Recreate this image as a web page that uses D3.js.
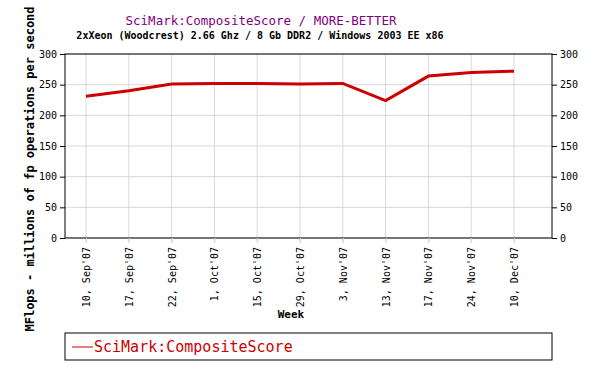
<!DOCTYPE html>
<html>
<head>
<meta charset="utf-8">
<script src="https://cdn.jsdelivr.net/npm/d3@7"></script>
<style>
  body { margin: 0; background: #fff; }
  svg { display: block; font-family: "DejaVu Sans Mono", "Liberation Mono", monospace; }
</style>
</head>
<body>
<svg id="chart" width="600" height="370"></svg>
<script>
// data
const weeks = ["10, Sep'07", "17, Sep'07", "22, Sep'07", "1, Oct'07", "15, Oct'07", "29, Oct'07",
               "3, Nov'07", "13, Nov'07", "17, Nov'07", "24, Nov'07", "10, Dec'07"];
const scores = [231, 240, 251, 252, 252, 251, 252, 224, 264, 270, 272];
const yTicks = [0, 50, 100, 150, 200, 250, 300];
const seriesName = "SciMark:CompositeScore";

const svg = d3.select("#chart");

// plot area
const plotLeft = 65, plotRight = 552, plotTop = 54, plotBottom = 238;

const x = d3.scalePoint()
  .domain(weeks)
  .range([86, 514]);

const y = d3.scaleLinear()
  .domain([0, 300])
  .range([plotBottom, plotTop]);

// grid
svg.append("g")
  .selectAll("line")
  .data(weeks)
  .join("line")
    .attr("x1", d => x(d)).attr("x2", d => x(d))
    .attr("y1", plotTop).attr("y2", plotBottom + 5)
    .attr("stroke", "#d9d9d9");

svg.append("g")
  .selectAll("line")
  .data(yTicks)
  .join("line")
    .attr("x1", plotLeft).attr("x2", plotRight)
    .attr("y1", d => y(d)).attr("y2", d => y(d))
    .attr("stroke", "#d9d9d9");

// frame
svg.append("rect")
  .attr("x", plotLeft).attr("y", plotTop)
  .attr("width", plotRight - plotLeft).attr("height", plotBottom - plotTop)
  .attr("fill", "none").attr("stroke", "#000");

// axes
const axL = svg.append("g")
  .attr("transform", `translate(${plotLeft},0)`)
  .call(d3.axisLeft(y).tickValues(yTicks).tickSize(5).tickPadding(3));
const axR = svg.append("g")
  .attr("transform", `translate(${plotRight},0)`)
  .call(d3.axisRight(y).tickValues(yTicks).tickSize(5).tickPadding(3));
[axL, axR].forEach(a => {
  a.select(".domain").remove();
  a.selectAll("text").attr("font-family", "DejaVu Sans Mono").attr("font-size", 10).attr("fill", "#000");
});

const axB = svg.append("g")
  .attr("transform", `translate(0,${plotBottom})`)
  .call(d3.axisBottom(x).tickSize(5).tickPadding(0));
axB.select(".domain").remove();
axB.selectAll("line").attr("stroke", "#d9d9d9");
axB.selectAll("text")
  .attr("font-family", "DejaVu Sans Mono")
  .attr("font-size", 10)
  .attr("fill", "#000")
  .attr("transform", "rotate(-90)")
  .attr("text-anchor", "end")
  .attr("x", -9)
  .attr("y", 0)
  .attr("dy", "0.35em");

// line
svg.append("path")
  .datum(scores)
  .attr("fill", "none")
  .attr("stroke", "#cc0000")
  .attr("stroke-width", 3)
  .attr("d", d3.line().x((d, i) => x(weeks[i])).y(d => y(d)));

// titles
svg.append("text")
  .attr("x", 261).attr("y", 25)
  .attr("text-anchor", "middle")
  .attr("font-size", 12.5)
  .attr("fill", "#800080")
  .text("SciMark:CompositeScore / MORE-BETTER");

svg.append("text")
  .attr("x", 260).attr("y", 39)
  .attr("text-anchor", "middle")
  .attr("font-size", 10)
  .attr("font-weight", "bold")
  .text("2xXeon (Woodcrest) 2.66 Ghz / 8 Gb DDR2 / Windows 2003 EE x86");

svg.append("text")
  .attr("transform", "translate(34,169) rotate(-90)")
  .attr("text-anchor", "middle")
  .attr("font-size", 12)
  .attr("font-weight", "bold")
  .text("MFlops - millions of fp operations per second");

svg.append("text")
  .attr("x", 291).attr("y", 318)
  .attr("text-anchor", "middle")
  .attr("font-size", 11)
  .attr("font-weight", "bold")
  .text("Week");

// legend
svg.append("rect")
  .attr("x", plotLeft).attr("y", 333)
  .attr("width", plotRight - plotLeft).attr("height", 27)
  .attr("fill", "none").attr("stroke", "#000");
svg.append("line")
  .attr("x1", 72).attr("x2", 93)
  .attr("y1", 347).attr("y2", 347)
  .attr("stroke", "#cc0000");
svg.append("text")
  .attr("x", 94).attr("y", 352)
  .attr("font-size", 15)
  .attr("fill", "#cc0000")
  .text(seriesName);
</script>
</body>
</html>
